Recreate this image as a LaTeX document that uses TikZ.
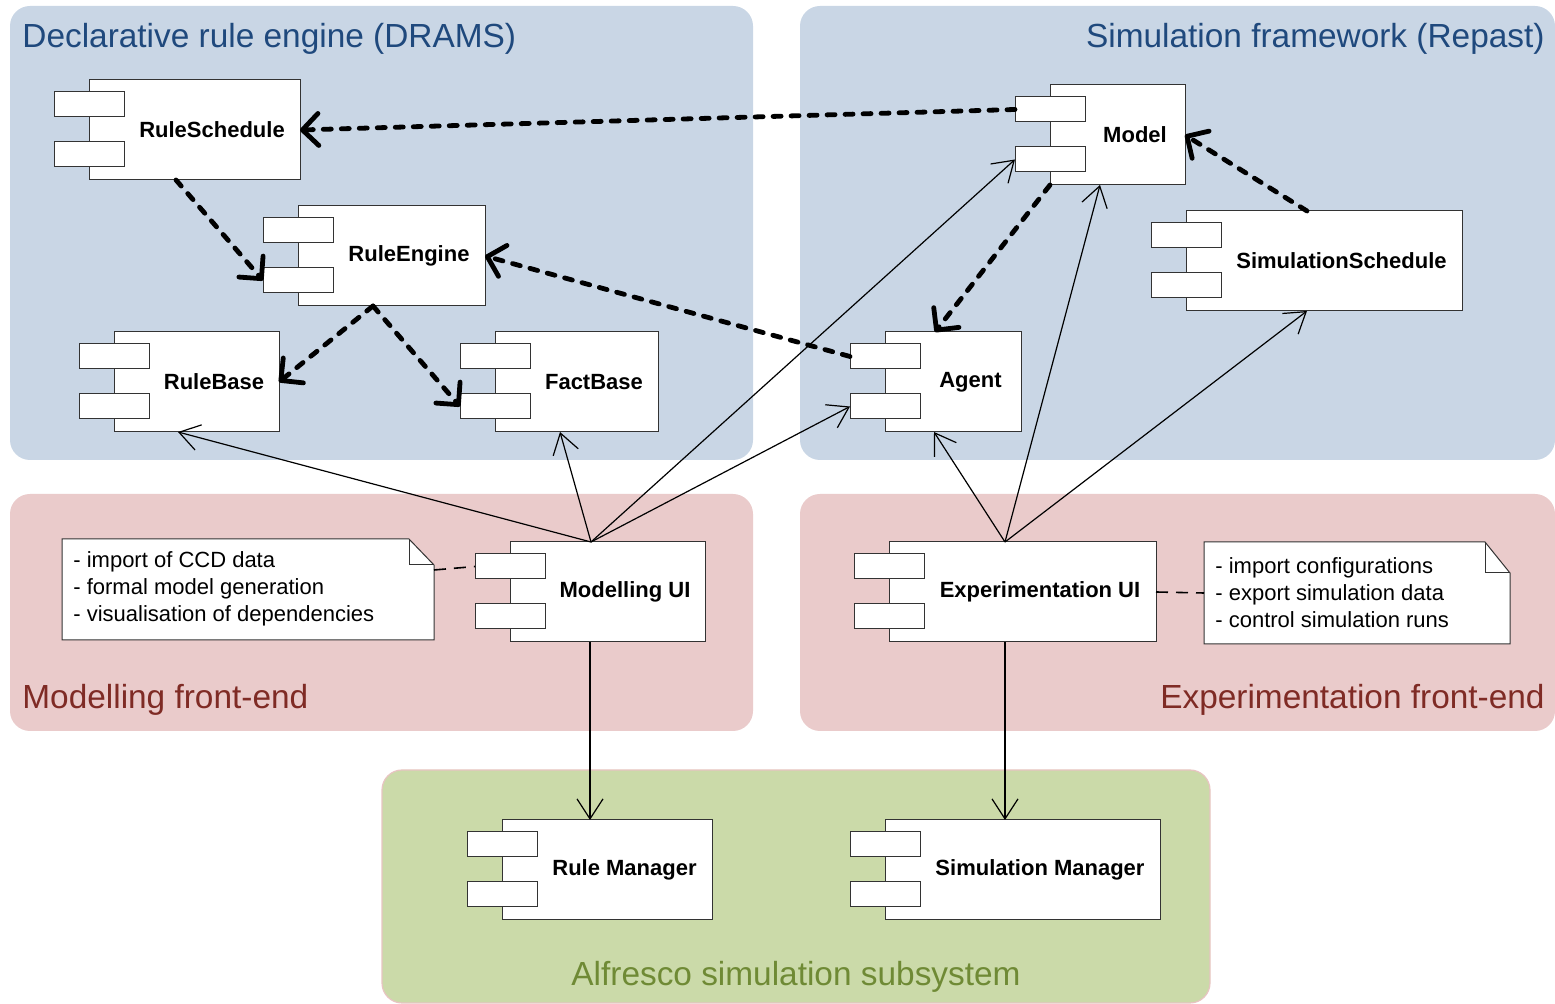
\documentclass[tikz,border=0pt]{standalone}
\usepackage{fontspec}
\setmainfont{Liberation Sans}
\usetikzlibrary{calc,arrows.meta}

\definecolor{engblue}{HTML}{C9D6E5}
\definecolor{engtext}{HTML}{1F497D}
\definecolor{frontpink}{HTML}{EACBCB}
\definecolor{fronttext}{HTML}{7F2B25}
\definecolor{subgreen}{HTML}{CBDAA9}
\definecolor{subtext}{HTML}{6F8A35}
\definecolor{subedge}{HTML}{E8C4C2}
\definecolor{boxedge}{HTML}{333333}

% a component body, two ports on its left edge and a bold name
\newcommand\umlcomp[5]{%
  \node[compbody, minimum width=#4*0.5pt, anchor=north west] (#1) at (#2,#3) {};
  \node[port, anchor=north west] (#1-a) at ($(#1.north west)+(-35,12)$) {};
  \node[port, anchor=north west] (#1-b) at ($(#1.north west)+(-35,62)$) {};
  \node[complabel] (#1-t) at ($(#1.center)+(17.5,0)$) {#5};
}

\begin{document}
\begin{tikzpicture}[x=0.5pt,y=-0.5pt,
  region/.style={rounded corners=10pt},
  regiontitle/.style={inner sep=0pt, font=\fontsize{16.7pt}{20pt}\selectfont},
  compbody/.style={draw=boxedge, fill=white, line width=0.5pt, inner sep=0pt,
    outer sep=0pt, minimum height=50pt},
  port/.style={draw=boxedge, fill=white, line width=0.5pt, inner sep=0pt,
    outer sep=0pt, minimum width=35pt, minimum height=12.5pt},
  complabel/.style={inner sep=0pt, font=\bfseries\fontsize{11pt}{13pt}\selectfont},
  notebox/.style={draw=boxedge, fill=white, line width=0.5pt},
  notetext/.style={inner sep=0pt, align=left,
    font=\fontsize{11pt}{13.5pt}\selectfont},
  dep/.style={line width=2.4pt, dash pattern=on 4pt off 5pt, line cap=round,
    -{Straight Barb[length=8pt,width=16pt,line cap=round,line join=round]}},
  use/.style={line width=0.6pt, -{Straight Barb[length=10pt,width=13pt]}},
  attach/.style={line width=0.8pt, dash pattern=on 6pt off 4pt}
]
\useasboundingbox (0,0) rectangle (1555,1004);

% package regions
\fill[engblue, region] (10,6) rectangle (753,460);
\fill[engblue, region] (800,6) rectangle (1555,460);
\fill[frontpink, region] (10,494) rectangle (753,731);
\fill[frontpink, region] (800,494) rectangle (1555,731);
\filldraw[fill=subgreen, draw=subedge, line width=0.6pt, region] (382,770) rectangle (1210,1003);

\node[regiontitle, text=engtext, anchor=base west] (t1) at (22,48) {Declarative rule engine (DRAMS)};
\node[regiontitle, text=engtext, anchor=base east] (t2) at (1545,48) {Simulation framework (Repast)};
\node[regiontitle, text=fronttext, anchor=base west] (t3) at (22,709) {Modelling front-end};
\node[regiontitle, text=fronttext, anchor=base east] (t4) at (1545,709) {Experimentation front-end};
\node[regiontitle, text=subtext, anchor=base] (t5) at (796,986) {Alfresco simulation subsystem};

% components
\umlcomp{rs}{89}{80}{211}{RuleSchedule}
\umlcomp{re}{298}{206}{187}{RuleEngine}
\umlcomp{rb}{114}{332}{165}{RuleBase}
\umlcomp{fb}{495}{332}{163}{FactBase}
\umlcomp{model}{1050}{85}{135}{Model}
\umlcomp{ss}{1186}{211}{276}{SimulationSchedule}
\umlcomp{agent}{885}{332}{136}{Agent}
\umlcomp{mui}{510}{542}{195}{Modelling UI}
\umlcomp{eui}{889}{542}{267}{Experimentation UI}
\umlcomp{rm}{502}{820}{210}{Rule Manager}
\umlcomp{sm}{885}{820}{275}{Simulation Manager}

% notes with a folded corner
\node[minimum width=186pt, minimum height=50.5pt, inner sep=0pt, outer sep=0pt,
  anchor=north west] (n1) at (62,539) {};
\draw[notebox] (n1.north west) -- ($(n1.north east)+(-25,0)$) -- ($(n1.north east)+(0,26)$)
  -- (n1.south east) -- (n1.south west) -- cycle;
\draw[line width=0.5pt, draw=boxedge] ($(n1.north east)+(-25,0)$) -- ($(n1.north east)+(-25,26)$)
  -- ($(n1.north east)+(0,26)$);
\node[notetext, anchor=west] (n1-t) at (73,589)
  {- import of CCD data\\- formal model generation\\- visualisation of dependencies};

\node[minimum width=153pt, minimum height=51pt, inner sep=0pt, outer sep=0pt,
  anchor=north west] (n2) at (1204,542) {};
\draw[notebox] (n2.north west) -- ($(n2.north east)+(-25,0)$) -- ($(n2.north east)+(0,31)$)
  -- (n2.south east) -- (n2.south west) -- cycle;
\draw[line width=0.5pt, draw=boxedge] ($(n2.north east)+(-25,0)$) -- ($(n2.north east)+(-25,31)$)
  -- ($(n2.north east)+(0,31)$);
\node[notetext, anchor=west] (n2-t) at (1215,593)
  {- import configurations\\- export simulation data\\- control simulation runs};

\draw[attach] ($(n1.north east)+(0,31)$) -- (mui-a.west);
\draw[attach] (eui.east) -- (n2.west);

% dependencies inside the engines
\draw[dep] (model-a.west) -- (rs.east);
\draw[dep] ($(rs.south west)+(87,0)$) -- (re-b.west);
\draw[dep] (agent-a.west) -- (re.east);
\coordinate (re-bot) at ($(re.south west)+(75,0)$);
\draw[dep] (re-bot) -- (rb.east);
\draw[dep] (re-bot) -- (fb-b.west);
\draw[dep] (model.south west) -- ($(agent.north west)+(50,0)$);
\draw[dep] ($(ss.north west)+(121,0)$) -- (model.east);

% usage from the front-ends
\coordinate (mui-top) at ($(mui.north west)+(81,0)$);
\draw[use] (mui-top) -- ($(rb.south west)+(64,0)$);
\draw[use] (mui-top) -- ($(fb.south west)+(65,0)$);
\draw[use] (mui-top) -- (model-b.west);
\draw[use] (mui-top) -- (agent-b.west);
\draw[use] ($(mui.south west)+(80,0)$) -- ($(rm.north west)+(88,0)$);

\coordinate (eui-top) at ($(eui.north west)+(116,0)$);
\draw[use] (eui-top) -- ($(agent.south west)+(49,0)$);
\draw[use] (eui-top) -- ($(model.south west)+(50,0)$);
\draw[use] (eui-top) -- ($(ss.south west)+(121,0)$);
\draw[use] ($(eui.south west)+(116,0)$) -- ($(sm.north west)+(120,0)$);
\end{tikzpicture}
\end{document}
